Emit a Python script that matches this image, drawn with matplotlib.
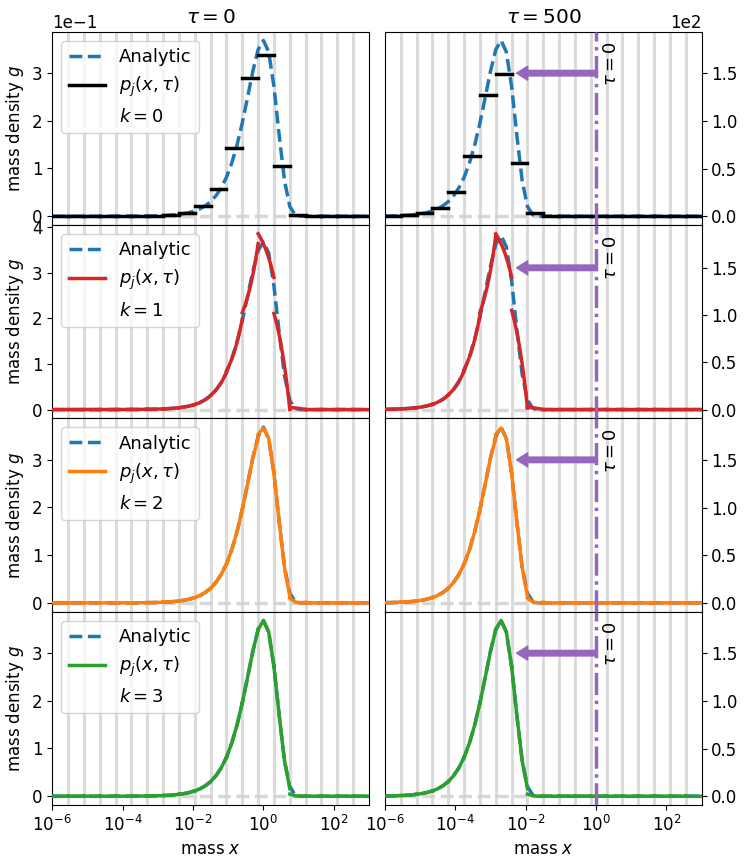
import matplotlib.pyplot as plt
import matplotlib.transforms as mtransforms
from matplotlib.lines import Line2D
from matplotlib.ticker import NullLocator
import numpy as np

plt.rcParams['font.size'] = 12

# malla: 20 celdas logaritmicas entre 1e-6 y 1e3
bin_edges = np.logspace(-6, 3, 21)
# 4 nodos por celda (los bordes se comparten) -> 61 nodos
nodes = np.logspace(-6, 3, 61)

taus = [0, 500]
orders = [0, 1, 2, 3]
order_colors = ['black', 'tab:red', 'tab:orange', 'tab:green']
arrow_y = 150.0
arrow_tip = 5.5e-3

# solucion analitica en los nodos
analytic_t0 = [
    1.000e-6, 1.413e-6, 1.995e-6, 2.818e-6, 3.981e-6, 5.623e-6, 7.943e-6,
    1.122e-5, 1.585e-5, 2.239e-5, 3.162e-5, 4.467e-5, 6.309e-5, 8.912e-5,
    1.259e-4, 1.778e-4, 2.511e-4, 3.547e-4, 5.009e-4, 7.075e-4, 9.990e-4,
    1.411e-3, 1.991e-3, 2.810e-3, 3.965e-3, 5.591e-3, 7.880e-3, 1.110e-2,
    1.560e-2, 2.189e-2, 3.064e-2, 4.272e-2, 5.924e-2, 8.153e-2, 0.1110,
    0.1489, 0.1954, 0.2488, 0.3036, 0.3488, 0.3679, 0.3440, 0.2713,
    0.1683, 0.07431, 0.02031, 2.820e-3, 1.504e-4, 2.1e-6,
    0, 0, 0, 0, 0, 0, 0, 0, 0, 0, 0, 0]
analytic_t500 = [
    0.2510, 0.3544, 0.5005, 0.7069, 0.9975, 1.408, 1.986, 2.801, 3.948,
    5.559, 7.816, 10.97, 15.35, 21.40, 29.68, 40.84, 55.61, 74.58, 97.89,
    124.7, 152.1, 174.7, 184.3, 172.3, 135.9, 84.30, 37.23, 10.18, 1.413,
    0.0753, 0.0010,
    0, 0, 0, 0, 0, 0, 0, 0, 0, 0, 0, 0, 0, 0, 0,
    0, 0, 0, 0, 0, 0, 0, 0, 0, 0, 0, 0, 0, 0, 0]

# k = 0: un valor por celda
p0_t0 = [1.91e-6, 5.38e-6, 1.52e-5, 4.27e-5, 1.20e-4, 3.39e-4, 9.56e-4,
         2.69e-3, 7.54e-3, 0.0209, 0.0566, 0.1420, 0.2886, 0.3372, 0.1057,
         0.00234, 0, 0, 0, 0]
p0_t500 = [0.4, 1.0, 3.8, 9.1, 25.5, 63.5, 127.3, 149.3, 56.2, 3.5,
           0, 0, 0, 0, 0, 0, 0, 0, 0, 0]

# k = 1: valor en el borde izquierdo y derecho de cada celda
p1_t0_left = [1.0e-6, 2.82e-6, 7.94e-6, 2.24e-5, 6.31e-5, 1.78e-4, 5.01e-4,
              1.41e-3, 3.96e-3, 1.11e-2, 3.13e-2, 8.49e-2, 0.2129, 0.386,
              0.211, 0.0047, 0, 0, 0, 0]
p1_t0_right = [2.82e-6, 7.94e-6, 2.24e-5, 6.31e-5, 1.78e-4, 5.01e-4, 1.41e-3,
               3.97e-3, 1.109e-2, 3.07e-2, 8.18e-2, 0.1989, 0.3643, 0.290,
               0.0, 0.0, 0, 0, 0, 0]
p1_t500_left = [0.251, 0.706, 1.98, 5.56, 15.7, 42.5, 103.0, 186.0, 105.0,
                2.5, 0, 0, 0, 0, 0, 0, 0, 0, 0, 0]
p1_t500_right = [0.706, 1.99, 5.56, 15.4, 41.0, 99.6, 184.0, 140.0, 1.5,
                 0.0, 0, 0, 0, 0, 0, 0, 0, 0, 0, 0]

# k = 2 y k = 3: 4 nodos por celda
z4 = [0.0, 0.0, 0.0, 0.0]
p2_t0 = [
    [1.000e-6, 1.413e-6, 1.995e-6, 2.818e-6],
    [2.818e-6, 3.981e-6, 5.623e-6, 7.943e-6],
    [7.943e-6, 1.122e-5, 1.585e-5, 2.239e-5],
    [2.239e-5, 3.162e-5, 4.467e-5, 6.309e-5],
    [6.309e-5, 8.912e-5, 1.259e-4, 1.778e-4],
    [1.778e-4, 2.511e-4, 3.547e-4, 5.009e-4],
    [5.009e-4, 7.075e-4, 9.990e-4, 1.411e-3],
    [1.411e-3, 1.991e-3, 2.810e-3, 3.965e-3],
    [3.965e-3, 5.591e-3, 7.880e-3, 1.110e-2],
    [1.110e-2, 1.560e-2, 2.189e-2, 3.064e-2],
    [3.064e-2, 4.272e-2, 5.924e-2, 8.153e-2],
    [8.153e-2, 0.1110, 0.1489, 0.1954],
    [0.1954, 0.2488, 0.3036, 0.3450],
    [0.3530, 0.3660, 0.3445, 0.2720],
    [0.2705, 0.1690, 0.0735, 0.0140],
    [0.0100, 0.0020, 0.0, 0.0015],
    z4, z4, z4, z4]
p3_t0 = [
    [1.000e-6, 1.413e-6, 1.995e-6, 2.818e-6],
    [2.818e-6, 3.981e-6, 5.623e-6, 7.943e-6],
    [7.943e-6, 1.122e-5, 1.585e-5, 2.239e-5],
    [2.239e-5, 3.162e-5, 4.467e-5, 6.309e-5],
    [6.309e-5, 8.912e-5, 1.259e-4, 1.778e-4],
    [1.778e-4, 2.511e-4, 3.547e-4, 5.009e-4],
    [5.009e-4, 7.075e-4, 9.990e-4, 1.411e-3],
    [1.411e-3, 1.991e-3, 2.810e-3, 3.965e-3],
    [3.965e-3, 5.591e-3, 7.880e-3, 1.110e-2],
    [1.110e-2, 1.560e-2, 2.189e-2, 3.064e-2],
    [3.064e-2, 4.272e-2, 5.924e-2, 8.153e-2],
    [8.153e-2, 0.1110, 0.1489, 0.1954],
    [0.1954, 0.2488, 0.3036, 0.3488],
    [0.3488, 0.3679, 0.3440, 0.2713],
    [0.2713, 0.1683, 0.0740, 0.0160],
    [0.0045, 0.0010, 0.0, 0.0],
    z4, z4, z4, z4]
p2_t500 = [
    [0.2510, 0.3544, 0.5005, 0.7069],
    [0.7069, 0.9975, 1.408, 1.986],
    [1.986, 2.801, 3.948, 5.559],
    [5.559, 7.816, 10.97, 15.35],
    [15.35, 21.40, 29.68, 40.84],
    [40.84, 55.61, 74.58, 97.89],
    [97.89, 124.7, 152.1, 172.8],
    [176.9, 183.4, 172.6, 136.3],
    [135.5, 84.7, 36.8, 7.0],
    [5.0, 1.0, 0.0, 0.75],
    z4, z4, z4, z4, z4, z4, z4, z4, z4, z4]
p3_t500 = [
    [0.2510, 0.3544, 0.5005, 0.7069],
    [0.7069, 0.9975, 1.408, 1.986],
    [1.986, 2.801, 3.948, 5.559],
    [5.559, 7.816, 10.97, 15.35],
    [15.35, 21.40, 29.68, 40.84],
    [40.84, 55.61, 74.58, 97.89],
    [97.89, 124.7, 152.1, 174.7],
    [174.7, 184.3, 172.3, 135.9],
    [135.9, 84.3, 37.1, 8.0],
    [2.2, 0.5, 0.0, 0.0],
    z4, z4, z4, z4, z4, z4, z4, z4, z4, z4]


def draw_k0(ax, vals, color):
    xs, ys = [], []
    for a, b, v in zip(bin_edges[:-1], bin_edges[1:], vals):
        xs += [a, b, np.nan]
        ys += [v, v, np.nan]
    ax.plot(xs, ys, color=color, lw=2.5, zorder=3)


def draw_k1(ax, left, right, color):
    # lineal en x dentro de cada celda
    xs, ys = [], []
    for a, b, l, r in zip(bin_edges[:-1], bin_edges[1:], left, right):
        xx = np.linspace(a, b, 30)
        xs += list(xx) + [np.nan]
        ys += list(l + (r - l) * (xx - a) / (b - a)) + [np.nan]
    ax.plot(xs, ys, color=color, lw=2.5, zorder=3)


def draw_nodal(ax, cells, color):
    xs, ys = [], []
    for j, cell in enumerate(cells):
        xs += list(nodes[3 * j:3 * j + 4]) + [np.nan]
        ys += list(cell) + [np.nan]
    ax.plot(xs, ys, color=color, lw=2.5, zorder=3)


fig = plt.figure(figsize=(7.48, 8.63), dpi=100)
axes = fig.subplots(4, 2, sharex=True)
fig.subplots_adjust(left=0.0699, right=0.938, top=0.9633, bottom=0.0672,
                    hspace=0, wspace=0.0505)

analytic = [analytic_t0, analytic_t500]
numeric = [
    [('k0', p0_t0), ('k1', p1_t0_left, p1_t0_right), ('n', p2_t0), ('n', p3_t0)],
    [('k0', p0_t500), ('k1', p1_t500_left, p1_t500_right), ('n', p2_t500), ('n', p3_t500)],
]

for row, k in enumerate(orders):
    color = order_colors[k]
    for col, tau in enumerate(taus):
        ax = axes[row, col]
        for e in bin_edges[1:-1]:
            ax.axvline(e, color='lightgrey', lw=2.2, alpha=0.8, zorder=0)
        ax.axhline(0, color='lightgrey', ls='--', lw=2.5, alpha=0.9, zorder=1)
        ax.plot(nodes, analytic[col], color='tab:blue', ls='--', lw=2.5, zorder=2)

        kind = numeric[col][row]
        if kind[0] == 'k0':
            draw_k0(ax, kind[1], color)
        elif kind[0] == 'k1':
            draw_k1(ax, kind[1], kind[2], color)
        else:
            draw_nodal(ax, kind[1], color)

        ax.set_xscale('log')
        ax.set_xlim(1e-6, 1e3)
        ax.set_xticks([1e-6, 1e-4, 1e-2, 1e0, 1e2])
        ax.xaxis.set_minor_locator(NullLocator())
        ax.ticklabel_format(axis='y', style='sci', scilimits=(0, 0))

        if col == 0:
            ax.set_ylabel('mass density $g$')
            handles = [Line2D([], [], color='tab:blue', ls='--', lw=2.5),
                       Line2D([], [], color=color, lw=2.5),
                       Line2D([], [], ls='none')]
            labels = ['Analytic', r'$p_j(x,\tau)$', rf'$k = {k}$']
            ax.legend(handles, labels, loc='upper left', fontsize=13)
        else:
            ax.yaxis.tick_right()
            ax.axvline(1.0, color='tab:purple', ls='-.', lw=2.5, zorder=4)
            ax.annotate('', xy=(arrow_tip, arrow_y), xytext=(1.0, arrow_y),
                        arrowprops=dict(color='tab:purple', width=4,
                                        headwidth=10, headlength=8, shrink=0),
                        zorder=4)
            trans = mtransforms.blended_transform_factory(ax.transData, ax.transAxes)
            ax.text(1.45, 0.95, r'$\tau = 0$', transform=trans, rotation=90,
                    ha='left', va='top', fontsize=13)

        # el texto de escala solo en la fila de arriba
        if row > 0:
            ax.yaxis.get_offset_text().set_visible(False)

        if row == 0:
            ax.set_title(rf'$\tau = {tau}$')
        if row == 3:
            ax.set_xlabel('mass $x$')

plt.savefig('out.png', dpi=100)
